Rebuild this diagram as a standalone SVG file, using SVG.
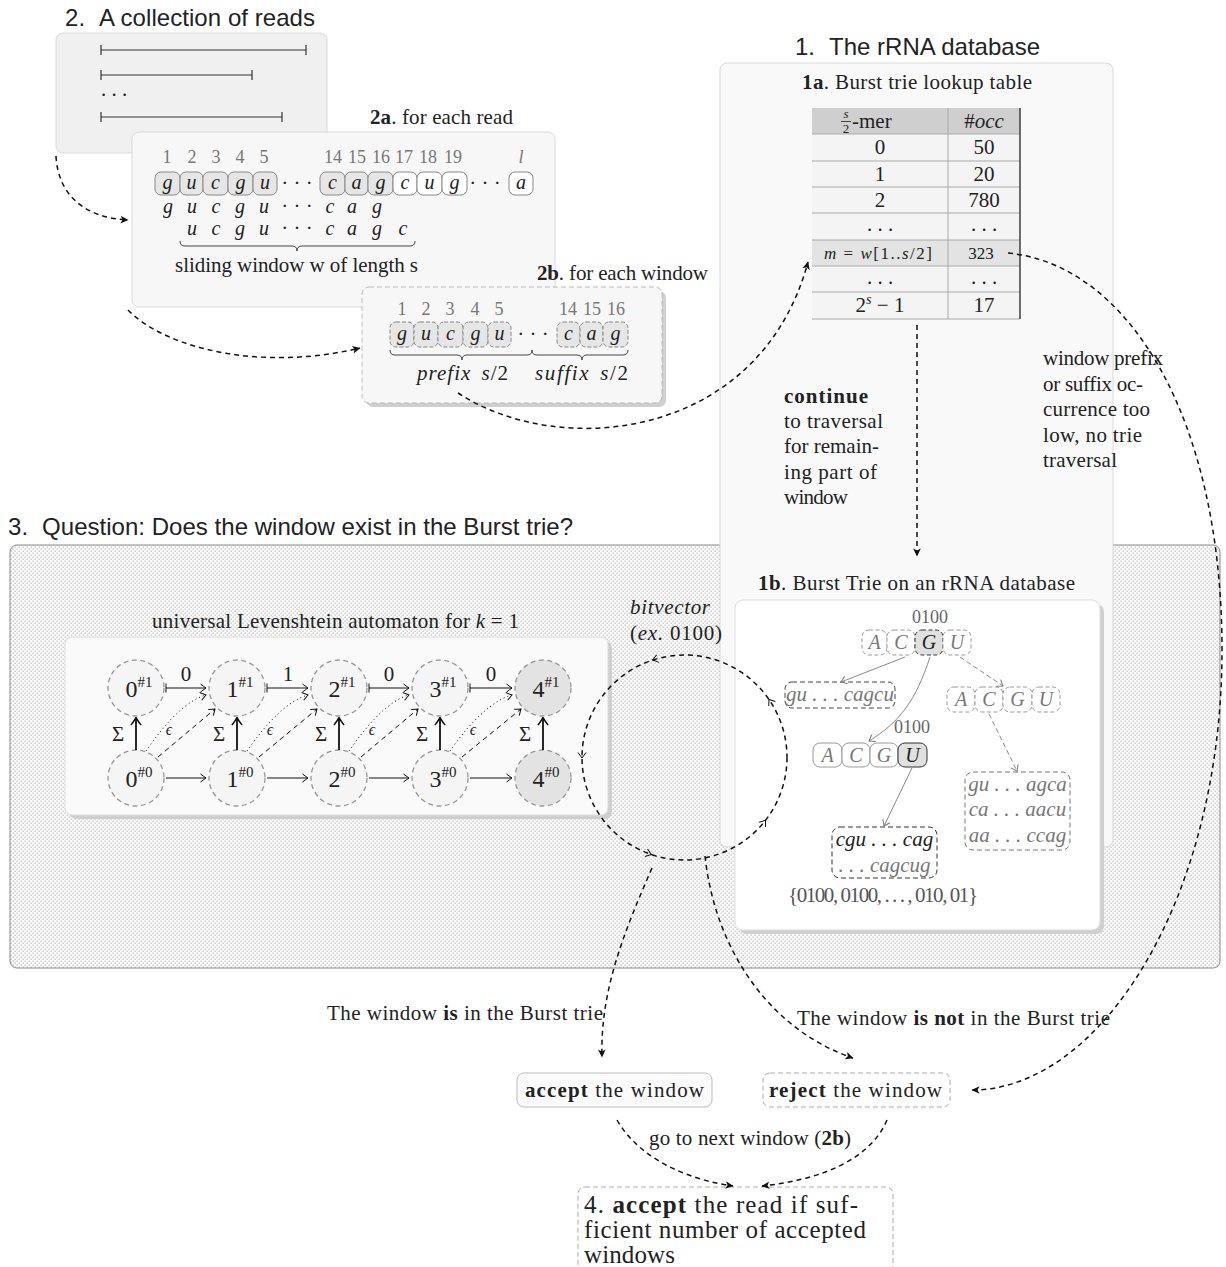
<svg xmlns="http://www.w3.org/2000/svg" width="1226" height="1267" viewBox="0 0 1226 1267">
<defs>
<pattern id="dots" width="4" height="4" patternUnits="userSpaceOnUse">
<rect width="4" height="4" fill="#fdfdfd"/>
<rect x="0.5" y="0.5" width="1.3" height="1.3" fill="#bcbcbc"/>
<rect x="2.5" y="2.5" width="1.3" height="1.3" fill="#bcbcbc"/>
</pattern>
<marker id="st" viewBox="-9 -5 10 10" refX="0" refY="0" markerWidth="10" markerHeight="10" orient="auto" markerUnits="userSpaceOnUse"><path d="M0.5,0 L-7.5,-3.8 L-5.5,0 L-7.5,3.8 Z" fill="#111"/></marker>
<marker id="to" viewBox="-7 -5 8 10" refX="0" refY="0" markerWidth="8" markerHeight="10" orient="auto" markerUnits="userSpaceOnUse"><path d="M-5.5,-4 Q-1.5,-1 0,0 Q-1.5,1 -5.5,4" fill="none" stroke="#111" stroke-width="1"/></marker>
<marker id="tog" viewBox="-7 -5 8 10" refX="0" refY="0" markerWidth="8" markerHeight="10" orient="auto" markerUnits="userSpaceOnUse"><path d="M-5.5,-4 Q-1.5,-1 0,0 Q-1.5,1 -5.5,4" fill="none" stroke="#777" stroke-width="1"/></marker>
<marker id="toB" viewBox="-9 -6 10 12" refX="0" refY="0" markerWidth="10" markerHeight="12" orient="auto" markerUnits="userSpaceOnUse"><path d="M-7,-5 Q-2,-1.2 0.5,0 Q-2,1.2 -7,5" fill="none" stroke="#111" stroke-width="1.6"/></marker>
<marker id="bar" viewBox="-1 -5 2 10" refX="0" refY="0" markerWidth="2" markerHeight="10" orient="auto" markerUnits="userSpaceOnUse"><path d="M0,-4.5 V4.5" stroke="#111" stroke-width="1"/></marker>
</defs>
<style>
text{font-family:"Liberation Serif","Times New Roman",serif;fill:#222;font-size:21px}
.sans{font-family:"Liberation Sans",Arial,sans-serif;font-size:24px}
.i{font-style:italic}
.b{font-weight:bold}
.gr{fill:#777}
.num{font-size:18px;fill:#777;text-anchor:middle}
.let{font-size:20px;font-style:italic;text-anchor:middle}
.mid{text-anchor:middle}
.s16{font-size:16px}
.s17{font-size:17px}
.s18{font-size:18px}
.s24{font-size:24px}
.s25{font-size:25px}
.cg{fill:#e6e6e6;stroke:#888;stroke-width:1}
.cw{fill:#fff;stroke:#888;stroke-width:1}
.cd{fill:#e6e6e6;stroke:#888;stroke-width:1;stroke-dasharray:4 2}
.shadow{fill:#cfcfcf}
.node{fill:#f5f5f5;stroke:#999;stroke-width:1.3;stroke-dasharray:5 3.5}
.nodeF{fill:#e3e3e3;stroke:#999;stroke-width:1.3;stroke-dasharray:5 3.5}
.conn{fill:none;stroke:#111;stroke-width:1.5;stroke-dasharray:5 4}
.brace{fill:none;stroke:#444;stroke-width:1}
.tdash{fill:#fff;stroke:#999;stroke-width:1;stroke-dasharray:4 2.5}
.tsol{fill:#fff;stroke:#999;stroke-width:1}
.tsel{fill:#e0e0e0;stroke:#333;stroke-width:1}
.tseld{fill:#e0e0e0;stroke:#333;stroke-width:1;stroke-dasharray:4 2.5}
.grid{stroke:#aaa;stroke-width:1;fill:none}
.st{font-size:24px}
</style>

<!-- Region 3 background -->
<g id="region3">
<rect x="10" y="545" width="1210" height="423" rx="7" fill="url(#dots)" stroke="#888" stroke-width="1"/>
<text x="8" y="535" class="sans" textLength="565">3.<tspan dx="14">Question: Does the window exist in the Burst trie?</tspan></text>
</g>

<!-- 2. reads -->
<g id="reads">
<text x="65" y="26" class="sans" textLength="250">2.<tspan dx="14">A collection of reads</tspan></text>
<rect x="56" y="33" width="271" height="120" rx="7" fill="#f0f0f0" stroke="#dadada"/>
<path d="M101,50H306M101,45V55M306,45V55M101,75H252M101,70V80M252,70V80M101,117H282M101,112V122M282,112V122" stroke="#333" stroke-width="1.2" fill="none"/>
<text x="101" y="96">. . .</text>
</g>

<!-- 2a. for each read -->
<g id="read">
<rect x="132" y="132" width="423" height="175" rx="7" fill="#f7f7f7" stroke="#dadada"/>
<text x="370" y="124" textLength="143"><tspan class="b">2a</tspan>. for each read</text>
<text class="num" x="167" y="163">1</text>
<text class="num" x="192" y="163">2</text>
<text class="num" x="216" y="163">3</text>
<text class="num" x="240" y="163">4</text>
<text class="num" x="264" y="163">5</text>
<text class="num" x="333" y="163">14</text>
<text class="num" x="357" y="163">15</text>
<text class="num" x="381" y="163">16</text>
<text class="num" x="404" y="163">17</text>
<text class="num" x="428" y="163">18</text>
<text class="num" x="453" y="163">19</text>
<text class="num i" x="521" y="163">l</text>
<rect class="cg" x="155" y="172" width="25" height="23" rx="6"/>
<rect class="cg" x="180" y="172" width="23" height="23" rx="6"/>
<rect class="cg" x="203" y="172" width="25" height="23" rx="6"/>
<rect class="cg" x="228" y="172" width="25" height="23" rx="6"/>
<rect class="cg" x="253" y="172" width="24" height="23" rx="6"/>
<rect class="cg" x="320" y="172" width="25" height="23" rx="6"/>
<rect class="cg" x="345" y="172" width="23" height="23" rx="6"/>
<rect class="cg" x="368" y="172" width="25" height="23" rx="6"/>
<rect class="cw" x="393" y="172" width="24" height="23" rx="6"/>
<rect class="cw" x="417" y="172" width="25" height="23" rx="6"/>
<rect class="cw" x="442" y="172" width="25" height="23" rx="6"/>
<rect class="cw" x="509" y="172" width="24" height="23" rx="6"/>
<text class="let" x="167.5" y="189">g</text>
<text class="let" x="191.5" y="189">u</text>
<text class="let" x="215.5" y="189">c</text>
<text class="let" x="240.5" y="189">g</text>
<text class="let" x="265" y="189">u</text>
<text class="mid" x="297" y="190">· · ·</text>
<text class="let" x="332.5" y="189">c</text>
<text class="let" x="356.5" y="189">a</text>
<text class="let" x="380.5" y="189">g</text>
<text class="let" x="405" y="189">c</text>
<text class="let" x="429.5" y="189">u</text>
<text class="let" x="454.5" y="189">g</text>
<text class="mid" x="485" y="190">· · ·</text>
<text class="let" x="521" y="189">a</text>
<text class="let" x="168" y="213">g</text>
<text class="let" x="192" y="213">u</text>
<text class="let" x="216" y="213">c</text>
<text class="let" x="240" y="213">g</text>
<text class="let" x="264" y="213">u</text>
<text class="mid" x="297" y="213">· · ·</text>
<text class="let" x="330" y="213">c</text>
<text class="let" x="352" y="213">a</text>
<text class="let" x="377" y="213">g</text>
<text class="let" x="192" y="235">u</text>
<text class="let" x="216" y="235">c</text>
<text class="let" x="240" y="235">g</text>
<text class="let" x="264" y="235">u</text>
<text class="mid" x="297" y="235">· · ·</text>
<text class="let" x="330" y="235">c</text>
<text class="let" x="352" y="235">a</text>
<text class="let" x="377" y="235">g</text>
<text class="let" x="403" y="235">c</text>
<path class="brace" d="M180,241 Q180,246 185,246 L292,246 Q297,246 297,251 Q297,246 302,246 L410,246 Q415,246 415,241"/>
<text x="175" y="272" textLength="243">sliding window w of length s</text>
</g>

<!-- 2b. for each window -->
<g id="window">
<text x="537" y="280" textLength="171"><tspan class="b">2b</tspan>. for each window</text>
<rect class="shadow" x="366" y="291" width="300" height="116" rx="7"/>
<rect x="362" y="287" width="300" height="116" rx="7" fill="#f7f7f7" stroke="#bbb" stroke-dasharray="5 3"/>
<text class="num" x="402" y="315">1</text>
<text class="num" x="426" y="315">2</text>
<text class="num" x="450" y="315">3</text>
<text class="num" x="475" y="315">4</text>
<text class="num" x="499" y="315">5</text>
<text class="num" x="568" y="315">14</text>
<text class="num" x="592" y="315">15</text>
<text class="num" x="616" y="315">16</text>
<rect class="cd" x="390" y="322" width="24" height="25" rx="6"/>
<rect class="cd" x="414" y="322" width="24" height="25" rx="6"/>
<rect class="cd" x="438" y="322" width="25" height="25" rx="6"/>
<rect class="cd" x="463" y="322" width="25" height="25" rx="6"/>
<rect class="cd" x="488" y="322" width="23" height="25" rx="6"/>
<rect class="cd" x="557" y="322" width="23" height="25" rx="6"/>
<rect class="cd" x="580" y="322" width="23" height="25" rx="6"/>
<rect class="cd" x="603" y="322" width="25" height="25" rx="6"/>
<text class="let" x="402" y="340">g</text>
<text class="let" x="426" y="340">u</text>
<text class="let" x="450.5" y="340">c</text>
<text class="let" x="475.5" y="340">g</text>
<text class="let" x="499.5" y="340">u</text>
<text class="mid" x="533" y="341">· · ·</text>
<text class="let" x="568.5" y="340">c</text>
<text class="let" x="591.5" y="340">a</text>
<text class="let" x="615.5" y="340">g</text>
<path class="brace" d="M390,350 Q390,355 395,355 L457,355 Q462,355 462,360 Q462,355 467,355 L527,355 Q532,355 532,350"/>
<path class="brace" d="M532,350 Q532,355 537,355 L577,355 Q582,355 582,360 Q582,355 587,355 L623,355 Q628,355 628,350"/>
<text x="417" y="380" textLength="91"><tspan class="i">prefix</tspan><tspan class="i" dx="10">s</tspan>/2</text>
<text x="535" y="380" textLength="93"><tspan class="i">suffix</tspan><tspan class="i" dx="10">s</tspan>/2</text>
</g>

<!-- 1. rRNA database -->
<g id="database">
<text x="795" y="55" class="sans" textLength="245">1.<tspan dx="14">The rRNA database</tspan></text>
<rect x="720" y="63" width="393" height="784" rx="7" fill="#f9f9f9" stroke="#d8d8d8"/>
<text x="802" y="89" textLength="230"><tspan class="b">1a</tspan>. Burst trie lookup table</text>
<text x="784" y="403" class="b" textLength="84">continue</text>
<text x="784" y="428" textLength="99">to traversal</text>
<text x="784" y="453" textLength="95">for remain-</text>
<text x="784" y="479" textLength="93">ing part of</text>
<text x="784" y="504" textLength="64">window</text>
<text x="1043" y="365" textLength="120">window prefix</text>
<text x="1043" y="391" textLength="100">or suffix oc-</text>
<text x="1043" y="416" textLength="107">currence too</text>
<text x="1043" y="442" textLength="99">low, no trie</text>
<text x="1043" y="467" textLength="74">traversal</text>
</g>

<!-- 1a table -->
<g id="lookup">
<rect x="812" y="108" width="208" height="26" fill="#cfcfcf"/>
<rect x="812" y="134" width="208" height="185" fill="#f4f4f4"/>
<rect x="812" y="240" width="208" height="26" fill="#e3e3e3"/>
<path class="grid" d="M812,134H1020M812,161H1020M812,187H1020M812,213H1020M812,240H1020M812,266H1020M812,292H1020M812,319H1020M948,108V319"/>
<path d="M1020,108V319" stroke="#333" stroke-width="1.4"/>
<text class="i" x="846" y="118" text-anchor="middle" style="font-size:13px">s</text>
<path d="M841,121.5H851" stroke="#222" stroke-width="0.8"/>
<text x="846" y="133" text-anchor="middle" style="font-size:13px">2</text>
<text x="852" y="128">-mer</text>
<text class="mid" x="984" y="128">#<tspan class="i">occ</tspan></text>
<text class="mid" x="880" y="154">0</text><text class="mid" x="984" y="154">50</text>
<text class="mid" x="880" y="181">1</text><text class="mid" x="984" y="181">20</text>
<text class="mid" x="880" y="207">2</text><text class="mid" x="984" y="207">780</text>
<text class="mid" x="880" y="231">. . .</text><text class="mid" x="984" y="231">. . .</text>
<text x="824" y="259" class="s17" textLength="108"><tspan class="i">m</tspan> = <tspan class="i">w</tspan>[1..<tspan class="i">s</tspan>/2]</text>
<text class="mid s17" x="981" y="259">323</text>
<text class="mid" x="880" y="284">. . .</text><text class="mid" x="984" y="284">. . .</text>
<text class="mid" x="880" y="312">2<tspan dy="-8" font-size="14" font-style="italic">s</tspan><tspan dy="8"> − 1</tspan></text>
<text class="mid" x="984" y="312">17</text>
</g>

<!-- automaton -->
<g id="automaton">
<text x="152" y="628" textLength="367">universal Levenshtein automaton for <tspan class="i">k</tspan> = 1</text>
<rect class="shadow" x="69" y="641" width="543" height="178" rx="7"/>
<rect x="65" y="637" width="543" height="178" rx="7" fill="#fafafa" stroke="#ddd"/>
</g>
<g id="q0_1"><circle class="node" cx="136" cy="688" r="28"/><text class="mid st" x="139" y="697">0<tspan dy="-10" font-size="15">#1</tspan></text></g>
<g id="q1_1"><circle class="node" cx="237" cy="688" r="28"/><text class="mid st" x="240" y="697">1<tspan dy="-10" font-size="15">#1</tspan></text></g>
<g id="q2_1"><circle class="node" cx="339" cy="688" r="28"/><text class="mid st" x="342" y="697">2<tspan dy="-10" font-size="15">#1</tspan></text></g>
<g id="q3_1"><circle class="node" cx="440" cy="688" r="28"/><text class="mid st" x="443" y="697">3<tspan dy="-10" font-size="15">#1</tspan></text></g>
<g id="q4_1"><circle class="nodeF" cx="543" cy="688" r="28"/><text class="mid st" x="546" y="697">4<tspan dy="-10" font-size="15">#1</tspan></text></g>
<g id="q0_0"><circle class="node" cx="136" cy="778" r="28"/><text class="mid st" x="139" y="787">0<tspan dy="-10" font-size="15">#0</tspan></text></g>
<g id="q1_0"><circle class="node" cx="237" cy="778" r="28"/><text class="mid st" x="240" y="787">1<tspan dy="-10" font-size="15">#0</tspan></text></g>
<g id="q2_0"><circle class="node" cx="339" cy="778" r="28"/><text class="mid st" x="342" y="787">2<tspan dy="-10" font-size="15">#0</tspan></text></g>
<g id="q3_0"><circle class="node" cx="440" cy="778" r="28"/><text class="mid st" x="443" y="787">3<tspan dy="-10" font-size="15">#0</tspan></text></g>
<g id="q4_0"><circle class="nodeF" cx="543" cy="778" r="28"/><text class="mid st" x="546" y="787">4<tspan dy="-10" font-size="15">#0</tspan></text></g>

<!-- 1b Burst trie -->
<g id="bursttrie">
<text x="758" y="590" textLength="317"><tspan class="b">1b</tspan>. Burst Trie on an rRNA database</text>
<rect class="shadow" x="739" y="604" width="365" height="330" rx="8"/>
<rect x="735" y="600" width="365" height="330" rx="8" fill="#fff" stroke="#ddd"/>
</g>
<g id="trie_root">
<text class="mid s18" x="930" y="623" style="fill:#666">0100</text>
<rect class="tdash" x="862" y="630" width="25" height="25" rx="7"/>
<rect class="tdash" x="887" y="630" width="28" height="25" rx="7"/>
<rect class="tseld" x="915" y="630" width="28" height="25" rx="7"/>
<rect class="tdash" x="943" y="630" width="28" height="25" rx="7"/>
<text class="let gr" x="874.5" y="649">A</text>
<text class="let gr" x="901" y="649">C</text>
<text class="let" x="929" y="649">G</text>
<text class="let gr" x="957" y="649">U</text>
</g>
<g id="trie_bucket1">
<rect x="785" y="682" width="110" height="26" rx="7" fill="#fff" stroke="#444" stroke-dasharray="5 3"/>
<text class="mid i gr" x="840" y="701">gu . . . cagcu</text>
</g>
<g id="trie_right">
<rect class="tdash" x="947" y="687" width="28" height="25" rx="7"/>
<rect class="tdash" x="975" y="687" width="28" height="25" rx="7"/>
<rect class="tdash" x="1003" y="687" width="29" height="25" rx="7"/>
<rect class="tdash" x="1032" y="687" width="28" height="25" rx="7"/>
<text class="let gr" x="961" y="706">A</text>
<text class="let gr" x="989" y="706">C</text>
<text class="let gr" x="1017.5" y="706">G</text>
<text class="let gr" x="1046" y="706">U</text>
</g>
<g id="trie_mid">
<text class="mid s18" x="912" y="733" style="fill:#666">0100</text>
<rect class="tsol" x="813" y="743" width="29" height="24" rx="7"/>
<rect class="tsol" x="842" y="743" width="28" height="24" rx="7"/>
<rect class="tsol" x="870" y="743" width="28" height="24" rx="7"/>
<rect class="tsel" x="898" y="743" width="29" height="24" rx="7"/>
<text class="let gr" x="827.5" y="762">A</text>
<text class="let gr" x="856" y="762">C</text>
<text class="let gr" x="884" y="762">G</text>
<text class="let" x="912.5" y="762">U</text>
</g>
<g id="trie_bucket2">
<rect x="832" y="827" width="105" height="51" rx="8" fill="#fff" stroke="#333" stroke-dasharray="5 3"/>
<text class="mid i" x="884.5" y="846">cgu . . . cag</text>
<text class="mid i gr" x="884.5" y="872">. . . cagcug</text>
<text x="788" y="902" textLength="190" style="fill:#555">{0100, 0100, . . . , 010, 01}</text>
</g>
<g id="trie_bucket3">
<rect x="965" y="772" width="105" height="78" rx="8" fill="#fff" stroke="#777" stroke-dasharray="5 3"/>
<text class="mid i gr" x="1017.5" y="791">gu . . . agca</text>
<text class="mid i gr" x="1017.5" y="816">ca . . . aacu</text>
<text class="mid i gr" x="1017.5" y="842">aa . . . ccag</text>
</g>

<!-- bottom nodes -->
<g id="accept">
<rect x="517" y="1073" width="195" height="34" rx="7" fill="#fafafa" stroke="#bbb"/>
<text x="525" y="1097" textLength="179"><tspan class="b">accept</tspan> the window</text>
</g>
<g id="reject">
<rect x="763" y="1073" width="187" height="34" rx="7" fill="#fff" stroke="#aaa" stroke-dasharray="5 3"/>
<text x="769" y="1097" textLength="173"><tspan class="b">reject</tspan> the window</text>
</g>
<g id="acceptread">
<rect x="578" y="1187" width="315" height="100" rx="7" fill="none" stroke="#aaa" stroke-dasharray="5 3"/>
<text x="584" y="1213" class="s25" textLength="274">4. <tspan class="b">accept</tspan> the read if suf-</text>
<text x="584" y="1238" class="s25" textLength="282">ficient number of accepted</text>
<text x="584" y="1263" class="s25" textLength="91">windows</text>
</g>

<!-- connectors -->
<g id="connectors">
<path class="conn" d="M56,156 C58,196 86,218 128,220" marker-end="url(#st)"/>
<path class="conn" d="M128,310 C165,348 260,372 360,348" marker-end="url(#st)"/>
<path class="conn" d="M458,393 C560,460 760,440 808,262" marker-end="url(#st)"/>
<path class="conn" d="M917,325 V556" marker-end="url(#st)"/>
<path class="conn" d="M1008,253 C1130,265 1222,420 1222,650 C1222,900 1100,1090 972,1090" marker-end="url(#st)"/>
<path class="conn" d="M652,868 C625,930 600,990 602,1057" marker-end="url(#st)"/>
<path class="conn" d="M705,856 C715,950 770,1030 853,1058" marker-end="url(#st)"/>
<path class="conn" d="M617,1120 C640,1160 690,1180 733,1186" marker-end="url(#st)"/>
<path class="conn" d="M887,1120 C870,1160 820,1180 762,1186" marker-end="url(#st)"/>

<!-- bitvector loop -->
<circle cx="684.5" cy="757.5" r="102.5" class="conn"/>
<path d="M653.5,659.8 l-1,0.3" stroke="#111" stroke-width="1" fill="none" marker-end="url(#to)"/>
<path d="M582,757 l0,1" stroke="#111" stroke-width="1" fill="none" marker-end="url(#to)"/>
<path d="M650.5,854.2 l0.95,0.33" stroke="#111" stroke-width="1" fill="none" marker-end="url(#to)"/>
<path d="M765,821 l0.6,-0.8" stroke="#111" stroke-width="1" fill="none" marker-end="url(#to)"/>
<path d="M769.5,700 l-0.57,-0.82" stroke="#111" stroke-width="1" fill="none" marker-end="url(#to)"/>
<text x="630" y="614" class="i" textLength="80">bitvector</text>
<text x="630" y="640" textLength="92">(<tspan class="i">ex.</tspan> 0100)</text>

<!-- automaton transitions -->
<g fill="none" stroke="#111" stroke-width="1">
<path d="M166,688H206" marker-start="url(#bar)" marker-end="url(#to)"/>
<path d="M267,688H308" marker-start="url(#bar)" marker-end="url(#to)"/>
<path d="M369,688H409" marker-start="url(#bar)" marker-end="url(#to)"/>
<path d="M470,688H512" marker-start="url(#bar)" marker-end="url(#to)"/>
<path d="M166,778H206" marker-end="url(#to)"/>
<path d="M267,778H308" marker-end="url(#to)"/>
<path d="M369,778H409" marker-end="url(#to)"/>
<path d="M470,778H512" marker-end="url(#to)"/>
<path d="M146,751 C166,722 187,700 206,695" stroke-dasharray="1 3" marker-end="url(#to)"/>
<path d="M247,751 C267,722 289,700 308,695" stroke-dasharray="1 3" marker-end="url(#to)"/>
<path d="M349,751 C369,722 390,700 409,695" stroke-dasharray="1 3" marker-end="url(#to)"/>
<path d="M450,751 C470,722 493,700 512,695" stroke-dasharray="1 3" marker-end="url(#to)"/>
<path d="M158,757 L215,709" stroke-dasharray="5 4" marker-end="url(#to)"/>
<path d="M259,757 L317,709" stroke-dasharray="5 4" marker-end="url(#to)"/>
<path d="M361,757 L418,709" stroke-dasharray="5 4" marker-end="url(#to)"/>
<path d="M462,757 L521,709" stroke-dasharray="5 4" marker-end="url(#to)"/>
<path d="M136,750V718" stroke-width="1.8" marker-end="url(#toB)"/>
<path d="M237,750V718" stroke-width="1.8" marker-end="url(#toB)"/>
<path d="M339,750V718" stroke-width="1.8" marker-end="url(#toB)"/>
<path d="M440,750V718" stroke-width="1.8" marker-end="url(#toB)"/>
<path d="M543,750V718" stroke-width="1.8" marker-end="url(#toB)"/>
</g>
<text class="mid" x="186" y="681">0</text>
<text class="mid" x="288" y="681">1</text>
<text class="mid" x="389" y="681">0</text>
<text class="mid" x="491" y="681">0</text>
<text class="mid" x="118" y="741">Σ</text>
<text class="mid" x="219" y="741">Σ</text>
<text class="mid" x="321" y="741">Σ</text>
<text class="mid" x="422" y="741">Σ</text>
<text class="mid" x="525" y="741">Σ</text>
<text class="mid i s16" x="169" y="735">ϵ</text>
<text class="mid i s16" x="270" y="735">ϵ</text>
<text class="mid i s16" x="372" y="735">ϵ</text>
<text class="mid i s16" x="473" y="735">ϵ</text>

<!-- trie edges -->
<g fill="none" stroke="#888" stroke-width="1">
<path d="M905,657 L841,682" marker-end="url(#tog)"/>
<path d="M930,657 C916,700 900,722 869,741" marker-end="url(#tog)"/>
<path d="M960,657 L1003,686" stroke-dasharray="5 3" marker-end="url(#tog)"/>
<path d="M912,768 L884,826" marker-end="url(#tog)"/>
<path d="M989,714 L1017,771" stroke-dasharray="5 3" marker-end="url(#tog)"/>
</g>

<!-- edge labels -->
<text x="327" y="1020" textLength="276">The window <tspan class="b">is</tspan> in the Burst trie</text>
<text x="797" y="1025" textLength="313">The window <tspan class="b">is not</tspan> in the Burst trie</text>
<text x="649" y="1145" textLength="202">go to next window (<tspan class="b">2b</tspan>)</text>
</g>
</svg>
